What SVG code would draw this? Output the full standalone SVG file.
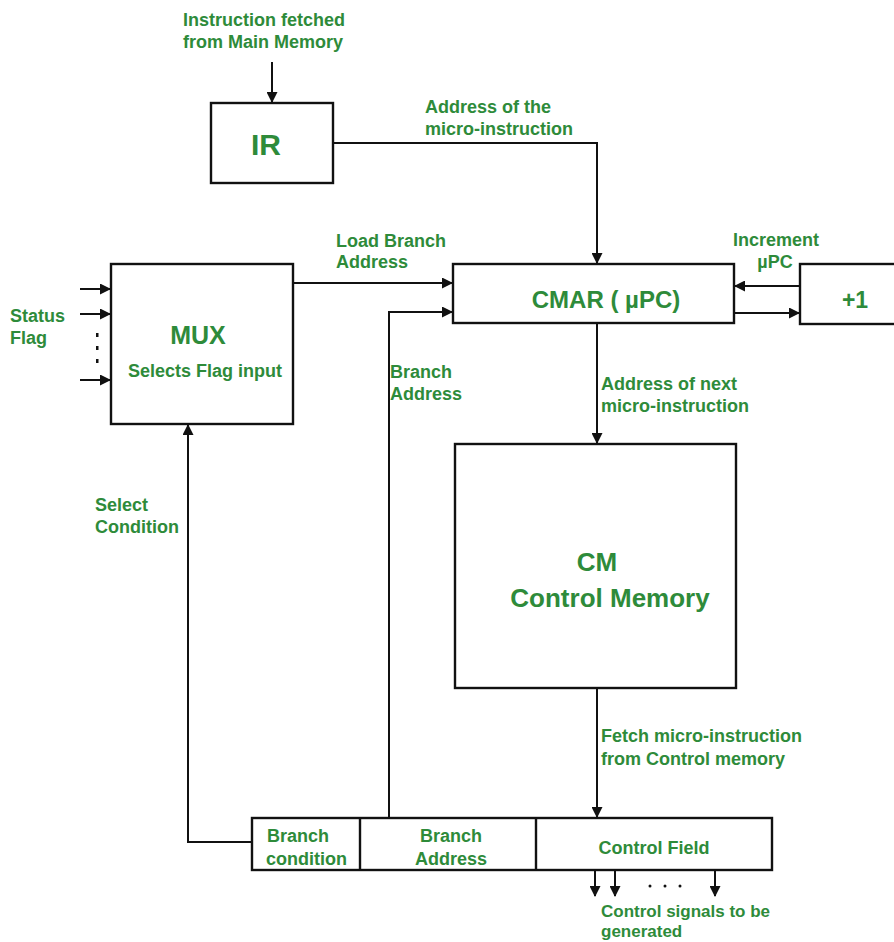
<svg xmlns="http://www.w3.org/2000/svg" width="894" height="942" viewBox="0 0 894 942">
<defs>
<marker id="ah" markerWidth="11" markerHeight="11" refX="10" refY="5.5" orient="auto" markerUnits="userSpaceOnUse">
<path d="M0,0 L11,5.5 L0,11 z" fill="#111"/>
</marker>
<style>
.box{fill:#fff;stroke:#111;stroke-width:2.4}
.ln{fill:none;stroke:#111;stroke-width:2.4}
.arr{fill:none;stroke:#111;stroke-width:2;marker-end:url(#ah)}
text{font-family:"Liberation Sans",Arial,sans-serif;font-weight:bold;fill:#2e8b3a}
.lb{font-size:18px}
.t{text-anchor:middle}
</style>
</defs>
<rect width="894" height="942" fill="#fff"/>
<g id="connectors">
<path class="arr" d="M272,62 L272,102"/>
<path class="arr" d="M333,143 L597,143 L597,263"/>
<path class="arr" d="M293,283 L452,283"/>
<path class="arr" d="M389,818 L389,312 L452,312"/>
<path class="arr" d="M252,842 L188,842 L188,425"/>
<path class="arr" d="M80,289 L110,289"/>
<path class="arr" d="M80,314 L110,314"/>
<path class="arr" d="M80,380 L110,380"/>
<path class="arr" d="M800,286 L735,286"/>
<path class="arr" d="M734,313 L799,313"/>
<path class="arr" d="M597,323 L597,443"/>
<path class="arr" d="M597,688 L597,817"/>
<path class="arr" d="M595,870 L595,896"/>
<path class="arr" d="M615,870 L615,896"/>
<path class="arr" d="M715,870 L715,896"/>
<rect x="96" y="333" width="2.5" height="4" fill="#111"/>
<rect x="96" y="346" width="2.5" height="4" fill="#111"/>
<rect x="96" y="359" width="2.5" height="4" fill="#111"/>
<circle cx="650" cy="886" r="1.5" fill="#111"/>
<circle cx="665" cy="886" r="1.5" fill="#111"/>
<circle cx="680" cy="886" r="1.5" fill="#111"/>
</g>
<g id="labels">
<text class="lb" x="183" y="26">Instruction fetched</text>
<text class="lb" x="183" y="48">from Main Memory</text>
<text class="lb" x="425" y="113">Address of the</text>
<text class="lb" x="425" y="135">micro-instruction</text>
<text class="lb" x="336" y="247">Load Branch</text>
<text class="lb" x="336" y="268">Address</text>
<text class="lb" x="733" y="246">Increment</text>
<text class="lb t" x="775" y="268">µPC</text>
<text class="lb" x="10" y="322">Status</text>
<text class="lb" x="10" y="344">Flag</text>
<text class="lb" x="390" y="378">Branch</text>
<text class="lb" x="390" y="400">Address</text>
<text class="lb" x="601" y="390">Address of next</text>
<text class="lb" x="601" y="412">micro-instruction</text>
<text class="lb" x="95" y="511">Select</text>
<text class="lb" x="95" y="533">Condition</text>
<text class="lb" x="601" y="742">Fetch micro-instruction</text>
<text class="lb" x="601" y="765">from Control memory</text>
<text class="lb" x="601" y="917" style="font-size:17px">Control signals to be</text>
<text class="lb" x="601" y="937" style="font-size:17px">generated</text>
</g>
<g id="IR">
<rect class="box" x="211" y="103" width="122" height="80"/>
<text class="t" x="266" y="155" style="font-size:30px">IR</text>
</g>
<g id="CMAR">
<rect class="box" x="453" y="264" width="281" height="59"/>
<text class="t" x="606" y="308" style="font-size:24px">CMAR ( µPC)</text>
</g>
<g id="inc">
<rect class="box" x="800" y="264" width="100" height="60"/>
<text class="t" x="855" y="308" style="font-size:23px">+1</text>
</g>
<g id="MUX">
<rect class="box" x="111" y="264" width="182" height="160"/>
<text class="t" x="198" y="344" style="font-size:25px">MUX</text>
<text class="t" x="205" y="377" style="font-size:18px">Selects Flag input</text>
</g>
<g id="CM">
<rect class="box" x="455" y="444" width="281" height="244"/>
<text class="t" x="597" y="571" style="font-size:26px">CM</text>
<text class="t" x="610" y="607" style="font-size:26px">Control Memory</text>
</g>
<g id="register">
<rect class="box" x="252" y="818" width="520" height="52"/>
<line class="ln" x1="360" y1="818" x2="360" y2="870"/>
<line class="ln" x1="536" y1="818" x2="536" y2="870"/>
<text class="lb" x="267" y="842">Branch</text>
<text class="lb" x="266" y="865">condition</text>
<text class="lb t" x="451" y="842">Branch</text>
<text class="lb t" x="451" y="865">Address</text>
<text class="lb t" x="654" y="854">Control Field</text>
</g>
</svg>
